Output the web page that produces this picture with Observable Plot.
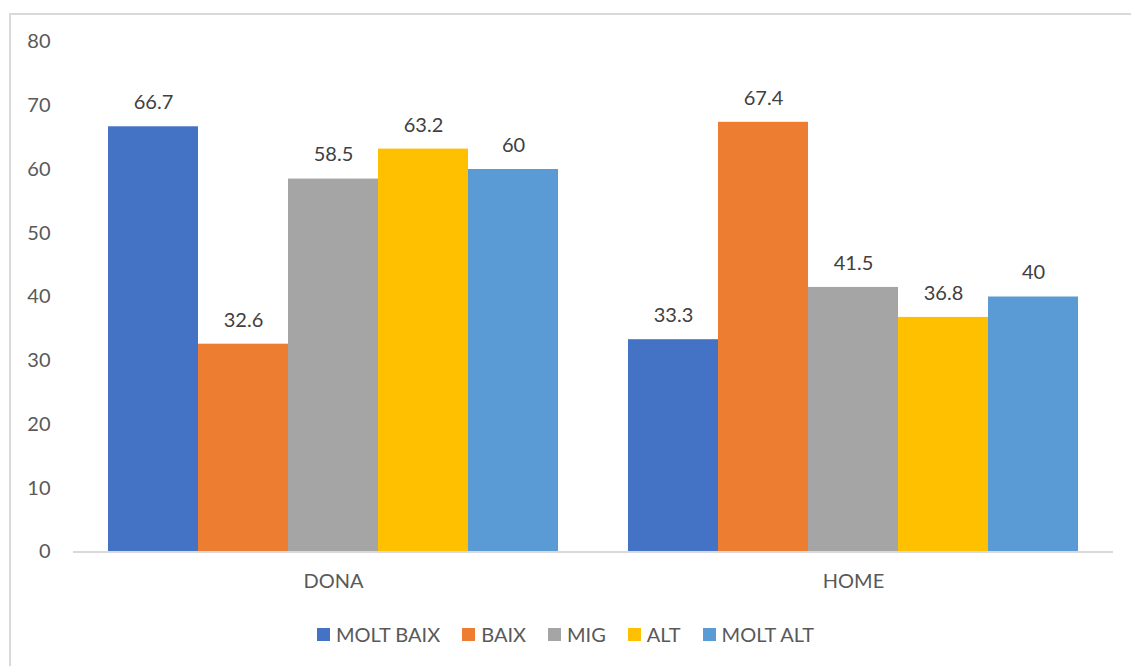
<!DOCTYPE html>
<html>
<head>
<meta charset="utf-8">
<script src="https://cdn.jsdelivr.net/npm/d3@7"></script>
<script src="https://cdn.jsdelivr.net/npm/@observablehq/plot@0.6"></script>
<style>
  html, body { margin: 0; padding: 0; background: #fff; overflow: hidden; width: 1131px; height: 666px; }
  #frame { position: absolute; left: 9px; top: 13px; width: 1200px; height: 700px; border: 2px solid #d9d9d9; box-sizing: border-box; }
  #chart { position: absolute; left: 0; top: 0; }
  #legend { position: absolute; left: 0; top: 622px; width: 1131px; display: flex; justify-content: center; align-items: center;
            font-family: Lato, "Open Sans", sans-serif; font-size: 20px; color: #595959; padding-left: 0px; box-sizing: border-box; }
  .item { display: flex; align-items: center; margin: 0 11px; }
  .sw { width: 13px; height: 13px; margin-right: 6px; }
</style>
</head>
<body>
<div id="frame"></div>
<div id="chart"></div>
<div id="legend"></div>
<script>
const categories = ["DONA", "HOME"];
const series = ["MOLT BAIX", "BAIX", "MIG", "ALT", "MOLT ALT"];
const donaValues = [66.7, 32.6, 58.5, 63.2, 60];
const homeValues = [33.3, 67.4, 41.5, 36.8, 40];
const colors = ["#4472C4", "#ED7D31", "#A5A5A5", "#FFC000", "#5B9BD5"];
const yTicks = [0, 10, 20, 30, 40, 50, 60, 70, 80];

const rows = [];
series.forEach((s, i) => {
  rows.push({cat: categories[0], series: s, value: donaValues[i]});
  rows.push({cat: categories[1], series: s, value: homeValues[i]});
});

const plot = Plot.plot({
  width: 1131,
  height: 600,
  marginLeft: 73,
  marginRight: 18,
  marginTop: 41.5,
  marginBottom: 48.5,
  style: {fontFamily: "Lato, 'Open Sans', sans-serif", fontSize: "20px", color: "#595959", background: "transparent"},
  fx: {domain: categories, padding: 0},
  x: {domain: series, paddingInner: 0, paddingOuter: 0.376, axis: null},
  y: {domain: [0, 80], ticks: yTicks},
  color: {domain: series, range: colors},
  marks: [
    Plot.axisY({ticks: yTicks, tickSize: 0, tickPadding: 23, label: null, fill: "#595959", fontSize: 20}),
    Plot.axisFx({anchor: "bottom", tickSize: 0, tickPadding: 22, label: null, fill: "#595959", fontSize: 20}),
    Plot.barY(rows, {fx: "cat", x: "series", y: "value", fill: "series"}),
    Plot.ruleY([0], {stroke: "#d9d9d9", strokeWidth: 2}),
    Plot.text(rows, {fx: "cat", x: "series", y: "value", text: d => String(d.value), dy: -24, fill: "#404040", fontSize: 20})
  ]
});
document.getElementById("chart").appendChild(plot);

const legend = d3.select("#legend");
series.forEach((s, i) => {
  const item = legend.append("div").attr("class", "item");
  item.append("div").attr("class", "sw").style("background", colors[i]);
  item.append("span").text(s);
});
</script>
</body>
</html>
